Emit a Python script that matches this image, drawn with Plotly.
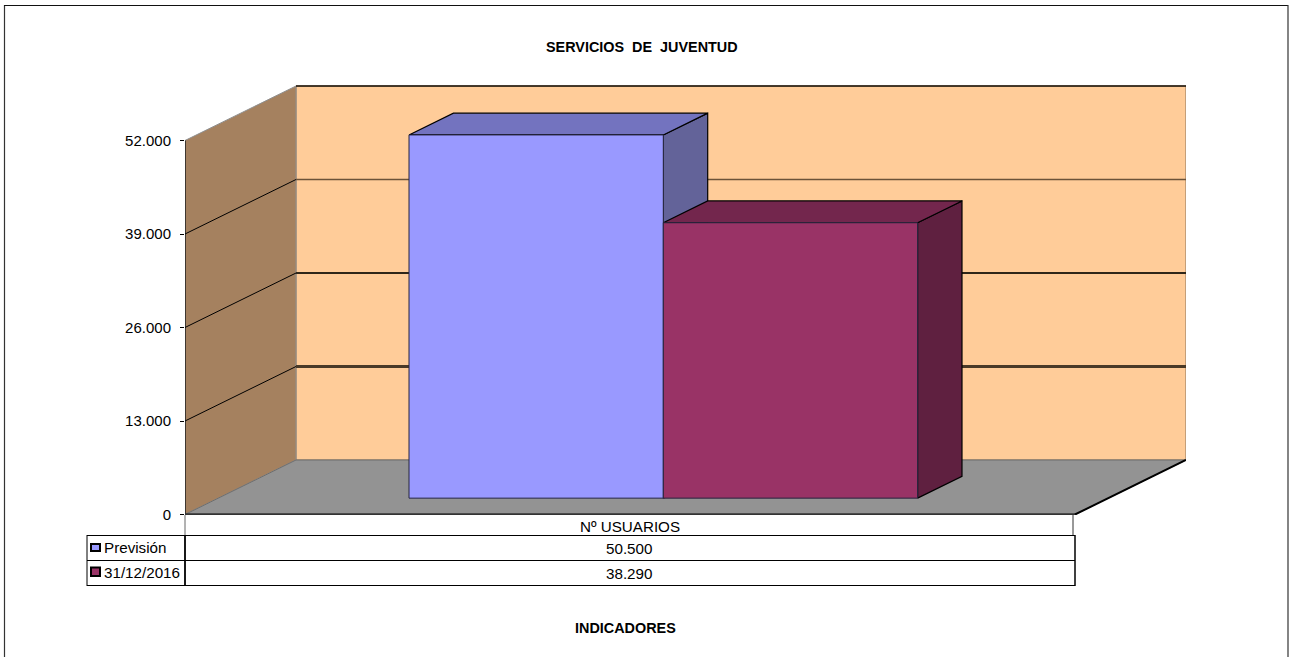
import plotly.graph_objects as go

# ---------- data ----------
title_text = "SERVICIOS\u00a0 DE\u00a0 JUVENTUD"
axis_title = "INDICADORES"
category = "Nº USUARIOS"
series_names = ["Previsión", "31/12/2016"]
prevision = [50500]
actual = [38290]
y_ticks = [0, 13000, 26000, 39000, 52000]
grid_values = [13000, 26000, 39000]
grid_widths = [3, 2, 1.5]
grid_colors = ["#4a3a28", "#2f2619", "#6b5238"]

# ---------- style / layout ----------
W, H = 1289, 657
L, R, T, B = 185, 1186, 85, 515         # plot box in pixels
ZERO_OFFSET = 0.5                       # zero line sits half a pixel above the box bottom
CAT_PX = 890                            # width of one category
PX_PER_UNIT = 374 / max(y_ticks)
DEPTH_X = (R - L - CAT_PX) / CAT_PX     # oblique shift of full depth
DEPTH_Y = 54.5 / PX_PER_UNIT
GAP = 1.5                               # gap width (150 %)
BAR_W = 1 / (2 + GAP)
BAR_DEPTH = (0.3, 0.7)

WALL, SIDE, FLOOR = "#FFCC99", "#A5815F", "#939393"
COLORS = [("#9999FF", "#7373BF", "#636399"), ("#993366", "#73264D", "#5F2040")]
FONT = "Liberation Sans, Arial, sans-serif"


def proj(c, v, d):
    """Oblique projection: category position, value, depth -> axis coordinates."""
    return c + d * DEPTH_X, v + d * DEPTH_Y


def poly(points, fill, line="#000000", width=1):
    xs, ys = zip(*[proj(*p) for p in points])
    return go.Scatter(
        x=list(xs) + [xs[0]], y=list(ys) + [ys[0]], mode="lines", fill="toself",
        fillcolor=fill, line=dict(color=line, width=width), hoverinfo="skip",
        showlegend=False, cliponaxis=False,
    )


def seg(p, q, color="#000000", width=1):
    a, b = proj(*p), proj(*q)
    return go.Scatter(
        x=[a[0], b[0]], y=[a[1], b[1]], mode="lines",
        line=dict(color=color, width=width), hoverinfo="skip",
        showlegend=False, cliponaxis=False,
    )


fig = go.Figure()
vmax = max(y_ticks)

# walls and floor
fig.add_trace(poly([(0, 0, 1), (1, 0, 1), (1, vmax, 1), (0, vmax, 1)], WALL, "#8a7358", 1))
fig.add_trace(poly([(0, 0, 0), (0, 0, 1), (0, vmax, 1), (0, vmax, 0)], SIDE, "#8f8f8f", 1))
fig.add_trace(poly([(0, 0, 0), (1, 0, 0), (1, 0, 1), (0, 0, 1)], FLOOR, "#6e6e6e", 1))
fig.add_trace(seg((0, vmax, 1), (1, vmax, 1), "#1a1208", 1.5))

# gridlines
for g, w, col in zip(grid_values, grid_widths, grid_colors):
    fig.add_trace(seg((0, g, 1), (1, g, 1), col, w))
    fig.add_trace(seg((0, g, 0), (0, g, 1), "#000000", 1))

# axis + edges
fig.add_trace(seg((0, 0, 0), (0, vmax, 0), "#000000", 1.2))
fig.add_trace(seg((0, 0, 0), (1, 0, 0), "#333333", 2.5))
fig.add_trace(seg((1, 0, 0), (1, 0, 1), "#000000", 2))

# bars
values = [prevision[0], actual[0]]
for i, v in enumerate(values):
    c0 = GAP / 2 * BAR_W + i * BAR_W
    c1 = c0 + BAR_W
    d0, d1 = BAR_DEPTH
    front, top, side = COLORS[i]
    fig.add_trace(poly([(c1, 0, d0), (c1, 0, d1), (c1, v, d1), (c1, v, d0)], side, "#000000", 1.2))
    fig.add_trace(poly([(c0, v, d0), (c1, v, d0), (c1, v, d1), (c0, v, d1)], top, "#000000", 1.2))
    fig.add_trace(poly([(c0, 0, d0), (c1, 0, d0), (c1, v, d0), (c0, v, d0)], front, "#26263f", 1))


def px(x):
    return (x - L) / (R - L)


def py(y):
    return (B - y) / (B - T)


def line(x0, y0, x1, y1, color="#000000", width=1):
    return dict(type="line", xref="paper", yref="paper", x0=px(x0), y0=py(y0), x1=px(x1), y1=py(y1),
                line=dict(color=color, width=width), layer="above")


def rect(x0, y0, x1, y1, fill, color="#000000", width=2):
    return dict(type="rect", xref="paper", yref="paper", x0=px(x0), y0=py(y0), x1=px(x1), y1=py(y1),
                fillcolor=fill, line=dict(color=color, width=width), layer="above")


def text(x, y, s, size=15.2, bold=False, anchor="center"):
    return dict(xref="paper", yref="paper", x=px(x), y=py(y), text=f"<b>{s}</b>" if bold else s,
                showarrow=False, xanchor=anchor, yanchor="middle",
                font=dict(family=FONT, size=size, color="#000000"))


fmt = lambda v: f"{v:,}".replace(",", ".")

shapes = [
    # outer frame
    line(4.5, 5, 4.5, 657, "#333333", 1.2),
    line(4, 5.5, 1288, 5.5, "#111111", 1.2),
    line(1288, 5, 1288, 657, "#333333", 1.2),
    # data table
    line(185, 515, 185, 535, "#666666", 1),
    line(1073, 515, 1073, 535, "#333333", 1),
    line(87, 535.5, 1075, 535.5, "#000000", 1.2),
    line(87, 560.5, 1075, 560.5, "#000000", 1.2),
    line(87, 585.5, 1075, 585.5, "#000000", 1.2),
    line(87, 535, 87, 586, "#000000", 1),
    line(185, 535, 185, 586, "#000000", 1.8),
    line(1075, 535, 1075, 586, "#000000", 1.5),
    # legend keys
    rect(91, 544, 100, 551, COLORS[0][0]),
    rect(91, 567.5, 100, 576, COLORS[1][0]),
]

annotations = [
    text(642, 47, title_text, 14.4, True),
    text(625.5, 628, axis_title, 14.4, True),
    text(630, 526, category),
    text(102, 547.5, series_names[0], anchor="left"),
    text(102, 572.5, series_names[1], anchor="left"),
    text(629, 548, fmt(prevision[0])),
    text(629, 573, fmt(actual[0])),
]

fig.update_layout(
    width=W, height=H, margin=dict(l=L, r=W - R, t=T, b=H - B, pad=0),
    paper_bgcolor="#FFFFFF", plot_bgcolor="rgba(0,0,0,0)", showlegend=False,
    separators=",.", shapes=shapes, annotations=annotations,
    font=dict(family=FONT, size=13, color="#000000"),
    xaxis=dict(range=[0, (R - L) / CAT_PX], visible=False, fixedrange=True),
    yaxis=dict(
        range=[-ZERO_OFFSET / PX_PER_UNIT, (B - T - ZERO_OFFSET) / PX_PER_UNIT],
        tickvals=y_ticks, tickformat=",d",
        showgrid=False, zeroline=False, showline=False, ticks="outside", ticklen=4,
        tickcolor="#000000", tickwidth=1, ticklabelstandoff=6, tickfont=dict(size=15),
        fixedrange=True,
    ),
)

fig.write_html("out.html", config=dict(displayModeBar=False),
               post_script="document.body.style.margin='0';")
